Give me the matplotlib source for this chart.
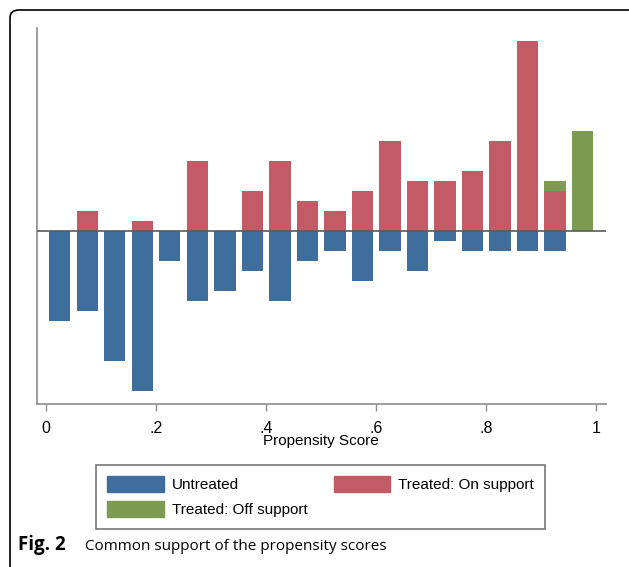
import matplotlib
matplotlib.use("Agg")
import matplotlib.pyplot as plt
from matplotlib.patches import FancyBboxPatch, Patch

# ---- data ----
bin_centers = [0.025, 0.075, 0.125, 0.175, 0.225, 0.275, 0.325, 0.375, 0.425, 0.475,
               0.525, 0.575, 0.625, 0.675, 0.725, 0.775, 0.825, 0.875, 0.925, 0.975]
untreated = [9, 8, 13, 16, 3, 7, 6, 4, 7, 3, 2, 5, 2, 4, 1, 2, 2, 2, 2, 0]
treated_on = [0, 2, 0, 1, 0, 7, 0, 4, 7, 3, 2, 4, 9, 5, 5, 6, 9, 19, 4, 0]
treated_off = [0, 0, 0, 0, 0, 0, 0, 0, 0, 0, 0, 0, 0, 0, 0, 0, 0, 0, 1, 10]
xticks = [0, 0.2, 0.4, 0.6, 0.8, 1.0]
xtick_labels = ["0", ".2", ".4", ".6", ".8", "1"]
legend_labels = ["Untreated", "Treated: On support", "Treated: Off support"]
xlabel = "Propensity Score"
caption_bold = "Fig. 2"
caption_text = "Common support of the propensity scores"

C_BLUE = "#3f6e9c"
C_RED = "#c25b66"
C_GREEN = "#7b9a52"
SANS = ["Liberation Sans", "DejaVu Sans"]
CAP = ["Open Sans", "DejaVu Sans"]

W, H = 629, 567
fig = plt.figure(figsize=(W / 100, H / 100), dpi=100)
fig.patch.set_facecolor("white")

# outer rounded frame
frame = FancyBboxPatch((10 / W, -30 / H), (650 - 10) / W, (557 + 30) / H,
                       boxstyle="round,pad=0,rounding_size=0.014",
                       transform=fig.transFigure, fill=False,
                       edgecolor="black", linewidth=1.2, clip_on=False)
fig.patches.append(frame)

ax = fig.add_axes([36.7 / W, (H - 404) / H, (606 - 36.7) / W, (404 - 28) / H])
bar_w = 0.039
ax.bar(bin_centers, treated_on, width=bar_w, color=C_RED, linewidth=0)
ax.bar(bin_centers, treated_off, width=bar_w, bottom=treated_on, color=C_GREEN, linewidth=0)
ax.bar(bin_centers, [-u for u in untreated], width=bar_w, color=C_BLUE, linewidth=0)
ax.axhline(0, color="#5a5a5a", linewidth=1.2, zorder=3)

ax.set_xlim(-0.0169, 1.018)
ax.set_ylim(-17.3, 20.3)
for s in ["top", "right"]:
    ax.spines[s].set_visible(False)
for s in ["left", "bottom"]:
    ax.spines[s].set_color("#8c8c8c")
    ax.spines[s].set_linewidth(1.2)
ax.set_yticks([])
ax.set_xticks(xticks)
ax.set_xticklabels(xtick_labels, family=SANS, fontsize=11.5)
ax.tick_params(axis="x", direction="out", length=5, width=1, color="#8c8c8c", pad=7)
ax.set_xlabel(xlabel, family=SANS, fontsize=11, labelpad=-1)

handles = [Patch(color=C_BLUE), Patch(color=C_GREEN), Patch(color=C_RED)]
labels = [legend_labels[0], legend_labels[2], legend_labels[1]]
leg = fig.legend(handles, labels, ncol=2, loc="upper left",
                 bbox_to_anchor=(96 / W, (H - 527) / H, (545 - 96) / W, (527 - 465) / H),
                 mode="expand", prop={"family": SANS, "size": 11},
                 frameon=True, fancybox=False, edgecolor="#555555",
                 handlelength=3.7, handleheight=1.2, handletextpad=0.5,
                 labelspacing=0.57, borderpad=0.75, borderaxespad=0, columnspacing=2)
leg.get_frame().set_linewidth(1.2)

t1 = fig.text(18 / W, (H - 550) / H, caption_bold, family=CAP,
              fontsize=13.5, fontweight="bold", va="baseline", ha="left")
fig.canvas.draw()
bb = t1.get_window_extent()
fig.text((bb.x1 + 19) / W, (H - 550) / H, caption_text, family=CAP,
         fontsize=11, va="baseline", ha="left")

fig.savefig("out.png", dpi=100, facecolor="white")
